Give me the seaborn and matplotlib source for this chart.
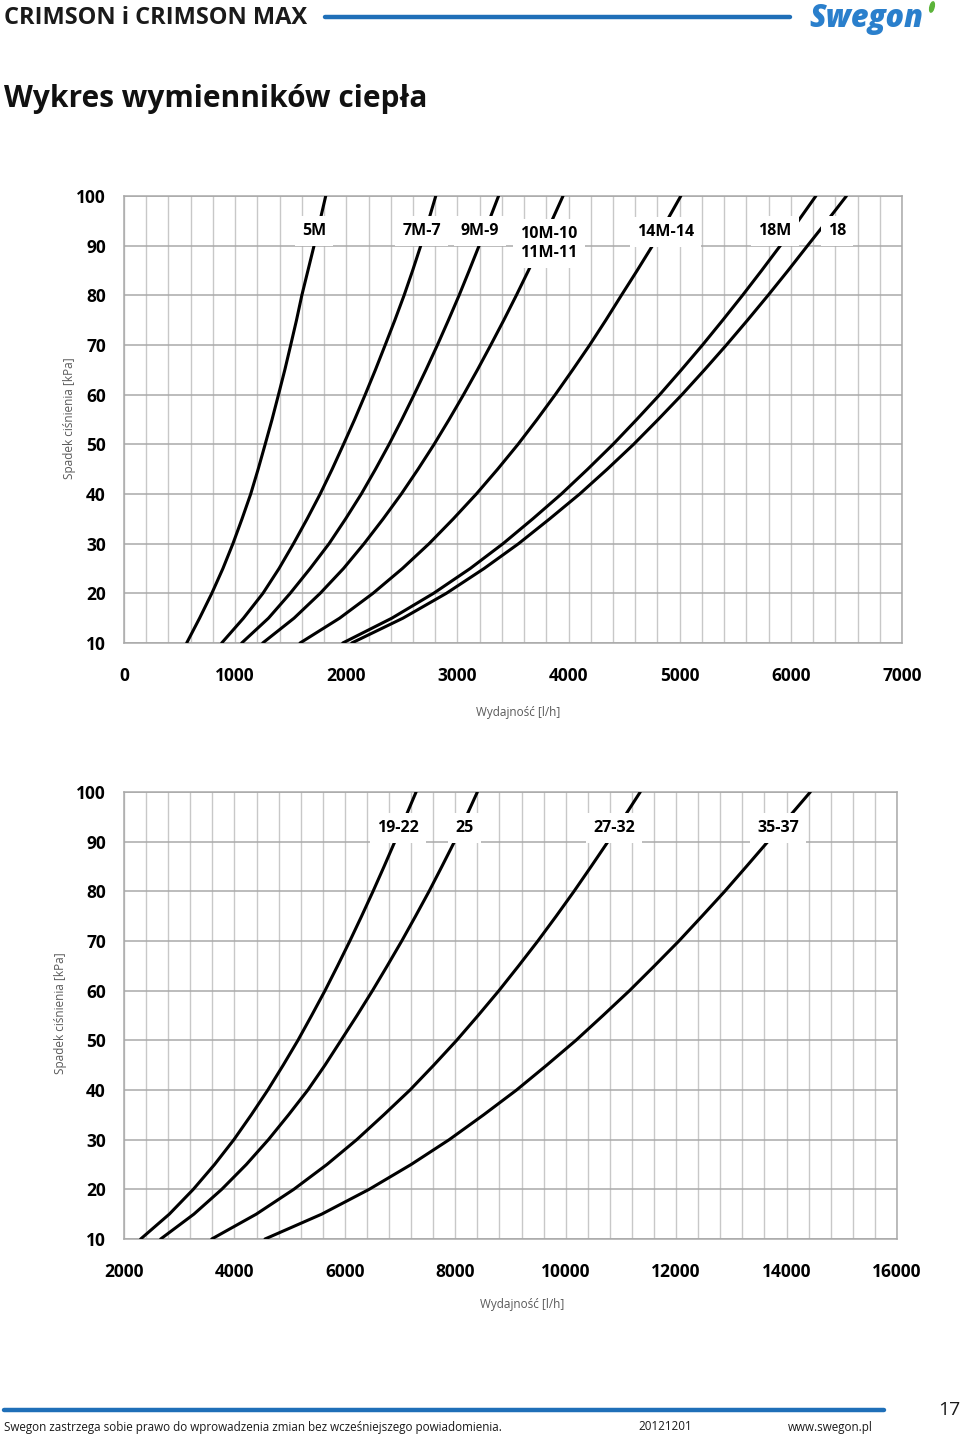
import numpy as np
import pandas as pd
import seaborn as sns
import matplotlib.pyplot as plt
from matplotlib.ticker import MultipleLocator
from matplotlib.lines import Line2D
from matplotlib.patches import Ellipse
from matplotlib import font_manager

# ---------------- data ----------------
dp_levels = [10, 15, 20, 25, 30, 35, 40, 45, 50, 55, 60, 65, 70, 75, 80, 85, 90, 95, 100]  # kPa

# upper chart: flow [l/h] at each pressure drop level
top_names = ["5M", "7M-7", "9M-9", "10M-10/11M-11", "14M-14", "18M", "18"]
flow_5M = [564, 680, 790, 890, 980, 1062, 1140, 1207, 1270, 1332, 1390, 1447, 1500, 1552, 1600, 1655, 1710, 1763, 1815]
flow_7M = [879, 1075, 1250, 1395, 1525, 1648, 1765, 1873, 1975, 2075, 2170, 2262, 2350, 2437, 2520, 2597, 2670, 2739, 2805]
flow_9M = [1059, 1300, 1495, 1675, 1845, 1994, 2135, 2263, 2385, 2500, 2610, 2717, 2820, 2919, 3015, 3106, 3195, 3284, 3370]
flow_10M = [1248, 1530, 1765, 1975, 2160, 2332, 2495, 2646, 2790, 2925, 3055, 3180, 3300, 3417, 3530, 3639, 3745, 3849, 3950]
flow_14M = [1584, 1940, 2240, 2505, 2745, 2963, 3170, 3362, 3545, 3716, 3880, 4037, 4190, 4335, 4475, 4617, 4755, 4884, 5010]
flow_18M = [1968, 2410, 2785, 3115, 3410, 3678, 3935, 4172, 4400, 4613, 4820, 5015, 5205, 5387, 5565, 5737, 5905, 6067, 6225]
flow_18 = [2049, 2510, 2900, 3240, 3550, 3830, 4100, 4348, 4585, 4806, 5020, 5223, 5420, 5610, 5795, 5975, 6150, 6327, 6500]

# lower chart
bot_names = ["19-22", "25", "27-32", "35-37"]
flow_19_22 = [2302, 2820, 3255, 3640, 3990, 4305, 4605, 4883, 5150, 5398, 5640, 5868, 6090, 6303, 6510, 6710, 6905, 7100, 7290]
flow_25 = [2664, 3265, 3770, 4215, 4615, 4980, 5330, 5640, 5930, 6220, 6500, 6768, 7030, 7280, 7525, 7757, 7985, 8195, 8400]
flow_27_32 = [3589, 4395, 5075, 5675, 6215, 6705, 7180, 7610, 8025, 8413, 8790, 9147, 9495, 9827, 10150, 10460, 10765, 11060, 11350]
flow_35_37 = [4554, 5580, 6440, 7200, 7890, 8513, 9110, 9656, 10185, 10675, 11155, 11607, 12050, 12468, 12880, 13272, 13660, 14045, 14430]

# curve labels: text, flow position, kPa position
top_label_text = ["5M", "7M-7", "9M-9", "10M-10\n11M-11", "14M-14", "18M", "18"]
top_label_x = [1710, 2681, 3203, 3824, 4872, 5857, 6415]
top_label_y = [92.95, 92.95, 92.95, 90.4, 92.8, 92.95, 92.95]
bot_label_text = ["19-22", "25", "27-32", "35-37"]
bot_label_x = [6955, 8165, 10877, 13848]
bot_label_y = [92.75, 92.75, 92.75, 92.75]

top_xticks = [0, 1000, 2000, 3000, 4000, 5000, 6000, 7000]
bot_xticks = [2000, 4000, 6000, 8000, 10000, 12000, 14000, 16000]
yticks = [10, 20, 30, 40, 50, 60, 70, 80, 90, 100]

x_label = "Wydajność [l/h]"
y_label = "Spadek ciśnienia [kPa]"

# ---------------- style ----------------
sns.set_theme(style="white")
installed = {f.name for f in font_manager.fontManager.ttflist}
MAIN = "Open Sans" if "Open Sans" in installed else "DejaVu Sans"
plt.rcParams["font.family"] = [MAIN, "DejaVu Sans"]

W, H = 960, 1438
fig = plt.figure(figsize=(W / 100, H / 100), dpi=100)
fig.patch.set_facecolor("white")


def fx(px):
    return px / W


def fy(py):
    return 1 - py / H


HGRID = "#a9a9a9"
VGRID = "#c8c8c8"
LABEL_GRAY = "#595959"


def long_df(names, flows):
    rows = []
    for n, f in zip(names, flows):
        for q, p in zip(f, dp_levels):
            rows.append({"series": n, "flow": q, "dp": p})
    return pd.DataFrame(rows)


def style_axes(ax, xmin, xmax, xminor, xticks):
    ax.set_xlim(xmin, xmax)
    ax.set_ylim(10, 100)
    ax.set_xticks(xticks)
    ax.xaxis.set_minor_locator(MultipleLocator(xminor))
    ax.set_yticks(yticks)
    ax.grid(False)
    ax.grid(axis="x", which="both", color=VGRID, linewidth=1.0, zorder=0)
    ax.grid(axis="y", which="major", color=HGRID, linewidth=1.1, zorder=0)
    ax.set_axisbelow(True)
    for s in ax.spines.values():
        s.set_color(HGRID)
        s.set_linewidth(1.1)
    ax.tick_params(axis="both", which="both", length=0)
    ax.tick_params(axis="y", pad=13)
    ax.tick_params(axis="x", pad=17)
    ax.set_xticklabels([str(v) for v in xticks], fontweight="bold", fontsize=12.5, color="black")
    ax.set_yticklabels([str(v) for v in yticks], fontweight="bold", fontsize=12.5, color="black")


def add_labels(ax, texts, xs, ys):
    for t, x, y in zip(texts, xs, ys):
        ax.text(x, y, t, ha="center", va="center", fontsize=11.5, fontweight="bold",
                linespacing=1.25, color="black", zorder=6,
                bbox=dict(boxstyle="square,pad=0.45", fc="white", ec="none"))


# ---------------- upper chart ----------------
ax1 = fig.add_axes([fx(124), fy(643), fx(902) - fx(124), fy(196) - fy(643)])
df_top = long_df(top_names, [flow_5M, flow_7M, flow_9M, flow_10M, flow_14M, flow_18M, flow_18])
sns.lineplot(data=df_top, x="flow", y="dp", hue="series", palette=["black"] * len(top_names),
             estimator=None, sort=False, legend=False, linewidth=2.2, ax=ax1, zorder=3)
style_axes(ax1, 0, 7000, 200, top_xticks)
add_labels(ax1, top_label_text, top_label_x, top_label_y)
ax1.set_xlabel(x_label, fontsize=8.5, color=LABEL_GRAY)
ax1.set_ylabel(y_label, fontsize=8.5, color=LABEL_GRAY)
ax1.xaxis.set_label_coords(0.506, -0.142)
ax1.yaxis.set_label_coords(-0.062, 0.503)

# ---------------- lower chart ----------------
ax2 = fig.add_axes([fx(124), fy(1239), fx(897) - fx(124), fy(792) - fy(1239)])
df_bot = long_df(bot_names, [flow_19_22, flow_25, flow_27_32, flow_35_37])
sns.lineplot(data=df_bot, x="flow", y="dp", hue="series", palette=["black"] * len(bot_names),
             estimator=None, sort=False, legend=False, linewidth=2.2, ax=ax2, zorder=3)
style_axes(ax2, 2000, 16000, 400, bot_xticks)
add_labels(ax2, bot_label_text, bot_label_x, bot_label_y)
ax2.set_xlabel(x_label, fontsize=8.5, color=LABEL_GRAY)
ax2.set_ylabel(y_label, fontsize=8.5, color=LABEL_GRAY)
ax2.xaxis.set_label_coords(0.515, -0.133)
ax2.yaxis.set_label_coords(-0.074, 0.506)

# ---------------- page header ----------------
BLUE = "#1f6fb8"
fig.text(fx(4), fy(18), "CRIMSON i CRIMSON MAX", fontsize=17, fontweight="bold",
         ha="left", va="center", color="#1a1a1a")
fig.add_artist(Line2D([fx(325), fx(790)], [fy(17), fy(17)], color=BLUE, linewidth=3.2))
fig.text(fx(809), fy(19), "Swegon", fontsize=22, fontweight="heavy", fontstyle="italic",
         ha="left", va="center", color="#2a7fcc")
fig.add_artist(Ellipse((fx(932), fy(7)), width=fx(4), height=(fy(0) - fy(11)),
                       angle=-25, color="#5bb339", transform=fig.transFigure))
fig.text(fx(4), fy(99), "Wykres wymienników ciepła", fontsize=21.5, fontweight="bold",
         ha="left", va="center", color="#111111")

# ---------------- page footer ----------------
fig.add_artist(Line2D([fx(4), fx(884)], [fy(1410), fy(1410)], color=BLUE, linewidth=3.2))
foot_kw = dict(fontsize=8.4)
fig.text(fx(4), fy(1427), "Swegon zastrzega sobie prawo do wprowadzenia zmian bez wcześniejszego powiadomienia.",
         ha="left", va="center", color="#1a1a1a", **foot_kw)
fig.text(fx(638), fy(1427), "20121201", ha="left", va="center", color="#1a1a1a", **foot_kw)
fig.text(fx(788), fy(1427), "www.swegon.pl", ha="left", va="center", color="#1a1a1a", **foot_kw)
fig.text(fx(949), fy(1410), "17", fontsize=14, ha="center", va="center", color="#1a1a1a")

fig.savefig("out.png", dpi=100, facecolor="white")
